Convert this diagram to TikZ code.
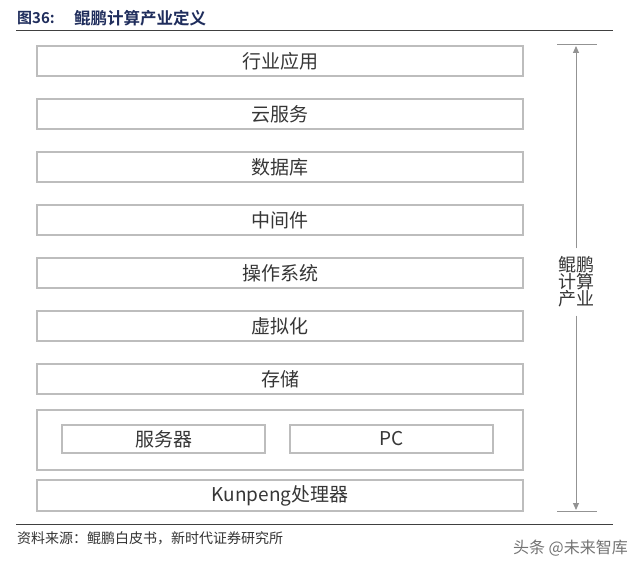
\documentclass[tikz,border=0pt]{standalone}
\usepackage{fontspec}
\setmainfont{Noto Sans CJK SC}
\newfontfamily\cjk{Noto Sans CJK SC}
\newfontfamily\cjkb{Noto Sans CJK SC Bold}
\usetikzlibrary{arrows.meta}
\definecolor{boxline}{HTML}{BDBDBD}
\definecolor{txt}{HTML}{363636}
\definecolor{navy}{HTML}{1F2D5C}
\begin{document}
\begin{tikzpicture}[x=1pt,y=-1pt,
  layer/.style={draw=boxline,line width=1.2pt,inner sep=0pt,font=\cjk\fontsize{19}{20}\selectfont,text=txt},
  sidelbl/.style={font=\cjk\fontsize{18}{20}\selectfont,text=txt,align=center},
  axis/.style={draw=gray!85,line width=1pt},
  rule/.style={draw=black!75,line width=1pt}]
\useasboundingbox (0,0) rectangle (640,572);
% title
\node[anchor=west,inner sep=0pt,text=navy,font=\cjkb\fontsize{15}{16}\selectfont] (ttl) at (17,18) {图36:};
\node[anchor=west,inner sep=0pt,text=navy,font=\cjkb\fontsize{16.5}{17}\selectfont] (ttl2) at (74,18) {鲲鹏计算产业定义};
\coordinate (r1a) at (16,31); \coordinate (r1b) at (613,31);
\draw[rule] (r1a) -- (r1b);
% layers
\foreach \n/\t/\y in {a/行业应用/61, b/云服务/114, c/数据库/167, d/中间件/220, e/操作系统/273, f/虚拟化/326, g/存储/379}{
  \node[layer,minimum width=486pt,minimum height=30pt] (\n) at (280,\y) {\t};
}
\node[layer,minimum width=486pt,minimum height=60pt] (h) at (280,440) {};
\node[layer,minimum width=203pt,minimum height=28pt] (h1) at (163.5,439) {服务器};
\node[layer,minimum width=203pt,minimum height=28pt] (h2) at (391.5,439) {PC};
\node[layer,minimum width=486pt,minimum height=31pt] (k) at (280,495.5) {Kunpeng处理器};
% side axis
\coordinate (t1) at (557,45); \coordinate (t2) at (597,45);
\coordinate (b1) at (557,511); \coordinate (b2) at (597,511);
\draw[axis] (t1) -- (t2);
\draw[axis] (b1) -- (b2);
\node[sidelbl,inner sep=0pt] (lbl) at (576,282) {鲲鹏\\[-3pt]计算\\[-3pt]产业};
\coordinate (ta) at (576,46); \coordinate (ba) at (576,510);
\draw[axis,-{Triangle[length=7pt,width=6pt]}] (lbl.north) ++(0,-8) coordinate (lu) (lu) -- (ta);
\draw[axis,-{Triangle[length=7pt,width=6pt]}] (lbl.south) ++(0,8) coordinate (ld) (ld) -- (ba);
% bottom rule and source
\coordinate (r2a) at (16,524); \coordinate (r2b) at (613,524);
\draw[rule] (r2a) -- (r2b);
\node[anchor=west,inner sep=0pt,text=black!80,font=\cjk\fontsize{14}{15}\selectfont] (src) at (17,538) {资料来源：鲲鹏白皮书，新时代证券研究所};
\node[anchor=east,inner sep=0pt,text=black!55,font=\cjk\fontsize{16}{17}\selectfont] (wm) at (628,548) {头条 @未来智库};
\end{tikzpicture}
\end{document}
